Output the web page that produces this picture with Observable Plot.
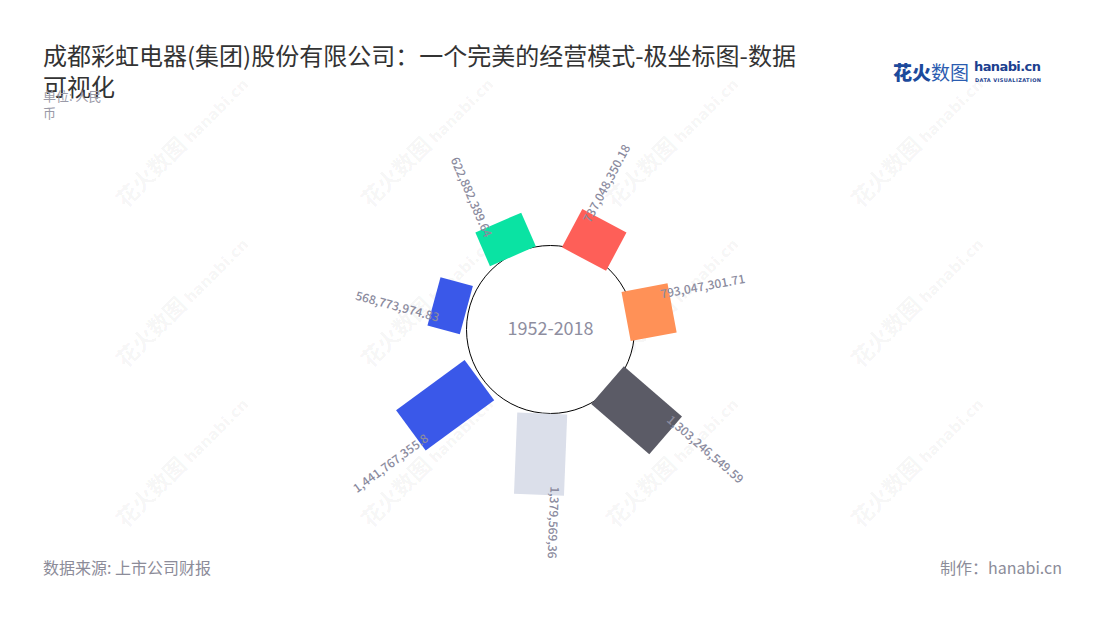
<!DOCTYPE html>
<html>
<head>
<meta charset="utf-8">
<script src="https://cdn.jsdelivr.net/npm/d3@7"></script>
<script src="https://cdn.jsdelivr.net/npm/@observablehq/plot@0.6"></script>
<style>
  body { margin: 0; background: #fff; font-family: "Noto Sans CJK SC", "Noto Sans", sans-serif; }
  #page { position: relative; width: 1100px; height: 620px; overflow: hidden; background: #fff; }
  #title { position: absolute; left: 43px; top: 39px; width: 765px; font-size: 24px; line-height: 31px; color: #333; }
  #subtitle { position: absolute; left: 43px; top: 87px; width: 70px; font-size: 13px; line-height: 17px; color: #9a9aa8; }
  #chart { position: absolute; left: 0; top: 120px; }
  #source { position: absolute; left: 43px; top: 556px; font-size: 16px; line-height: 22px; color: #8c8c99; }
  #credit { position: absolute; right: 38px; top: 556px; font-size: 16px; line-height: 22px; color: #8c8c99; }
  #logo { position: absolute; left: 893px; top: 58px; height: 28px; white-space: nowrap; }
  #logo .cn1 { font-size: 19px; font-weight: 900; color: #1c4a9c; }
  #logo .cn2 { font-size: 19px; font-weight: 400; color: #2b5cb0; }
  #logo .en { position: absolute; left: 81px; top: 1px; font-family: "DejaVu Sans", sans-serif; font-size: 13px; font-weight: bold; color: #1c3f8f; letter-spacing: -0.6px; }
  #logo .en2 { position: absolute; left: 82px; top: 19px; font-family: "DejaVu Sans", sans-serif; font-size: 5px; font-weight: bold; color: #1c3f8f; letter-spacing: 0.4px; }
  .wm { position: absolute; transform: rotate(-45deg); transform-origin: center; color: rgba(0,0,0,0.05); font-weight: bold; white-space: nowrap; }
  .wm .a { font-size: 22px; }
  .wm .b { font-size: 15px; font-family: "DejaVu Sans", sans-serif; margin-left: 4px; }
</style>
</head>
<body>
<div id="page">
  <div id="wm-layer"></div>
  <div id="title">成都彩虹电器(集团)股份有限公司：一个完美的经营模式-极坐标图-数据可视化</div>
  <div id="subtitle">单位: 人民币</div>
  <div id="logo"><span class="cn1">花火</span><span class="cn2">数图</span><span class="en">hanabi.cn</span><span class="en2">DATA VISUALIZATION</span></div>
  <div id="chart"></div>
  <div id="source">数据来源: 上市公司财报</div>
  <div id="credit">制作：hanabi.cn</div>
</div>
<script>
// ---- data ----
const categories = ["项目1", "项目2", "项目3", "项目4", "项目5", "项目6", "项目7"];
const values = [737048350.18, 793047301.71, 1303246549.59, 1379569360, 1441767355.8, 568773974.83, 622882389.64];
const valueLabels = ["737,048,350.18", "793,047,301.71", "1,303,246,549.59", "1,379,569,36", "1,441,767,355.8", "568,773,974.83", "622,882,389.64"];
const colors = ["#fe5f58", "#ff9157", "#5b5b66", "#dbdfea", "#3a58e9", "#3a58e9", "#0ae3a3"];
const periodLabel = "1952-2018";

// ---- watermarks (decoration) ----
const wmCols = [180, 425, 670, 915];
const wmRows = [140, 300, 460];
const wmLayer = document.getElementById("wm-layer");
for (const cx of wmCols) for (const cy of wmRows) {
  const d = document.createElement("div");
  d.className = "wm";
  d.innerHTML = '<span class="a">花火数图</span><span class="b">hanabi.cn</span>';
  wmLayer.appendChild(d);
  const w = d.offsetWidth, h = d.offsetHeight;
  d.style.left = (cx - w / 2) + "px";
  d.style.top = (cy - h / 2) + "px";
}

// ---- chart ----
const W = 1100, H = 420;
const innerR = 82, barWidth = 50, maxBar = 85;
const step = 360 / values.length;
const startAngle = 28;
const lenScale = Plot.scale({x: {domain: [0, d3.max(values)], range: [0, maxBar]}});
const pivot = {x: -5, y: 1};

const rows = values.map((v, i) => {
  const deg = startAngle + i * step;
  const a = deg * Math.PI / 180;
  const ux = Math.sin(a), uy = -Math.cos(a);
  const tx = Math.cos(a), ty = Math.sin(a);
  const outer = innerR + lenScale.apply(v);
  const rl = outer - 9, off = -15;
  const outward = deg <= 200;
  return {
    category: categories[i], value: v, label: valueLabels[i],
    x1: pivot.x + innerR * ux, y1: pivot.y + innerR * uy,
    x2: pivot.x + outer * ux, y2: pivot.y + outer * uy,
    lx: pivot.x + rl * ux + off * tx, ly: pivot.y + rl * uy + off * ty,
    rotate: outward ? deg - 90 : deg + 90,
    outward
  };
});

const labelStyle = {x: "lx", y: "ly", text: "label", rotate: "rotate", fontSize: 12, fill: "#8b8b9e", fontWeight: 500};

const chart = Plot.plot({
  width: W, height: H, margin: 0,
  x: {domain: [-W / 2, W / 2], range: [0, W], axis: null},
  y: {domain: [-H / 2, H / 2], range: [0, H], axis: null},
  color: {domain: categories, range: colors},
  style: {fontFamily: '"Noto Sans CJK SC", "Noto Sans", sans-serif', background: "transparent", overflow: "visible"},
  marks: [
    Plot.dot([periodLabel], {frameAnchor: "middle", r: 84, stroke: "#000", strokeWidth: 1, fill: "#fff", dy: -1}),
    Plot.link(rows, {x1: "x1", y1: "y1", x2: "x2", y2: "y2", stroke: "category", strokeWidth: barWidth, strokeLinecap: "butt"}),
    Plot.text([periodLabel], {frameAnchor: "middle", text: d => d, fontSize: 18, fill: "#8e8e9f", dy: -1}),
    Plot.text(rows.filter(d => d.outward), {...labelStyle, textAnchor: "start"}),
    Plot.text(rows.filter(d => !d.outward), {...labelStyle, textAnchor: "end"})
  ]
});
document.getElementById("chart").appendChild(chart);
</script>
</body>
</html>
